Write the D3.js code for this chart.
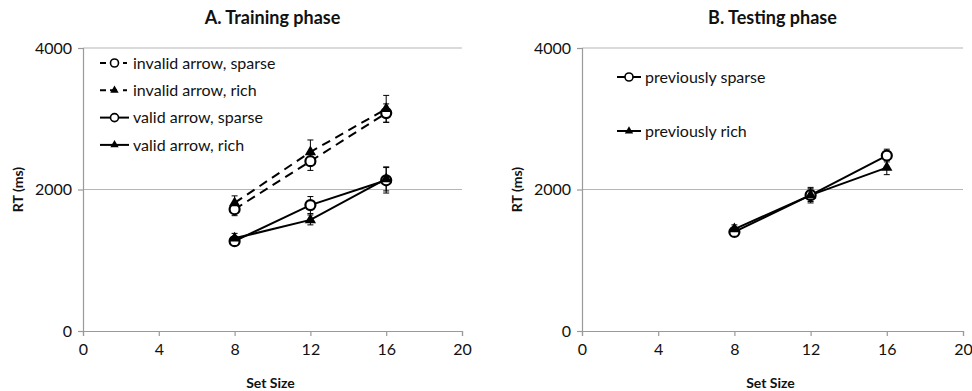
<!DOCTYPE html>
<html>
<head>
<meta charset="utf-8">
<script src="https://cdn.jsdelivr.net/npm/d3@7"></script>
<style>
  body { margin: 0; background: #fff; }
  text { font-family: Lato, 'Open Sans', sans-serif; fill: #111; }
</style>
</head>
<body>
<script>
// set sizes shown on the x axis
var setSizes = [8, 12, 16]
var xTicks = [0, 4, 8, 12, 16, 20]
var yTicks = [0, 2000, 4000]

// A. training phase (mean RT and error)
var invalidSparse = [1720, 2400, 3080]
var invalidSparseErr = [90, 130, 130]
var invalidRich = [1810, 2530, 3140]
var invalidRichErr = [100, 170, 190]
var validSparse = [1270, 1780, 2130]
var validSparseErr = [60, 120, 180]
var validRich = [1310, 1570, 2150]
var validRichErr = [70, 70, 170]

// B. testing phase
var prevSparse = [1400, 1920, 2480]
var prevSparseErr = [60, 90, 90]
var prevRich = [1440, 1920, 2310]
var prevRichErr = [60, 110, 100]

var svg = d3.select('body').append('svg')
  .attr('width', 972)
  .attr('height', 391)

var panels = [
  {
    title: 'A. Training phase',
    left: 83,
    right: 462,
    series: [
      { name: 'invalid arrow,  sparse', values: invalidSparse, err: invalidSparseErr, shape: 'circle', dashed: true },
      { name: 'invalid arrow,  rich', values: invalidRich, err: invalidRichErr, shape: 'triangle', dashed: true },
      { name: 'valid arrow,  sparse', values: validSparse, err: validSparseErr, shape: 'circle', dashed: false },
      { name: 'valid arrow,  rich', values: validRich, err: validRichErr, shape: 'triangle', dashed: false }
    ],
    legend: { x: 100, y: 63, gap: 27.3, len: 29 }
  },
  {
    title: 'B. Testing phase',
    left: 582,
    right: 963,
    series: [
      { name: 'previously sparse', values: prevSparse, err: prevSparseErr, shape: 'circle', dashed: false },
      { name: 'previously rich', values: prevRich, err: prevRichErr, shape: 'triangle', dashed: false }
    ],
    legend: { x: 617, y: 77, gap: 54, len: 24 }
  }
]

var plotTop = 48
var plotBottom = 331

panels.forEach(function (p) {
  var x = d3.scaleLinear().domain([0, 20]).range([p.left, p.right])
  var y = d3.scaleLinear().domain([0, 4000]).range([plotBottom, plotTop])
  var g = svg.append('g')

  // gridlines
  g.selectAll('line.grid')
    .data(yTicks.slice(1))
    .enter().append('line')
    .attr('x1', p.left).attr('x2', p.right)
    .attr('y1', function (d) { return y(d) })
    .attr('y2', function (d) { return y(d) })
    .attr('stroke', '#b5b5b5')
    .attr('stroke-width', 1.2)

  // axes
  var xAxis = g.append('g')
    .attr('transform', 'translate(0,' + plotBottom + ')')
    .call(d3.axisBottom(x).tickValues(xTicks).tickSize(5).tickPadding(8))
  var yAxis = g.append('g')
    .attr('transform', 'translate(' + p.left + ',0)')
    .call(d3.axisLeft(y).tickValues(yTicks).tickSize(5).tickPadding(6).tickFormat(d3.format('d')))
  ;[xAxis, yAxis].forEach(function (a) {
    a.select('.domain').attr('stroke', '#9a9a9a').attr('stroke-width', 1.2)
    a.selectAll('.tick line').attr('stroke', '#9a9a9a').attr('stroke-width', 1.2)
    a.selectAll('.tick text').style('font-size', '16px').attr('fill', '#111')
  })

  // titles and axis labels
  g.append('text')
    .attr('x', (p.left + p.right) / 2)
    .attr('y', 24)
    .attr('text-anchor', 'middle')
    .style('font-size', '18px')
    .style('font-weight', 'bold')
    .text(p.title)
  g.append('text')
    .attr('x', (p.left + p.right) / 2 - 2)
    .attr('y', 388)
    .attr('text-anchor', 'middle')
    .style('font-size', '14px')
    .style('font-weight', 'bold')
    .text('Set Size')
  g.append('text')
    .attr('transform', 'translate(' + (p.left - 60) + ',' + ((plotTop + plotBottom) / 2) + ') rotate(-90)')
    .attr('text-anchor', 'middle')
    .style('font-size', '14px')
    .style('font-weight', 'bold')
    .text('RT (ms)')

  var line = d3.line()
    .x(function (d, i) { return x(setSizes[i]) })
    .y(function (d) { return y(d) })

  var tri = d3.symbol().type(d3.symbolTriangle).size(55)

  function marker (sel, shape) {
    if (shape === 'circle') {
      sel.append('circle').attr('r', 5)
        .attr('fill', '#fff').attr('stroke', '#000').attr('stroke-width', 2.2)
    } else {
      sel.append('path').attr('d', tri).attr('fill', '#000')
    }
  }

  p.series.forEach(function (s) {
    // error bars
    var eb = g.append('g')
    s.values.forEach(function (v, i) {
      var cx = x(setSizes[i])
      eb.append('line')
        .attr('x1', cx).attr('x2', cx)
        .attr('y1', y(v - s.err[i])).attr('y2', y(v + s.err[i]))
        .attr('stroke', '#000').attr('stroke-width', 1)
      ;[v - s.err[i], v + s.err[i]].forEach(function (e) {
        eb.append('line')
          .attr('x1', cx - 3).attr('x2', cx + 3)
          .attr('y1', y(e)).attr('y2', y(e))
          .attr('stroke', '#000').attr('stroke-width', 1)
      })
    })

    g.append('path')
      .datum(s.values)
      .attr('d', line)
      .attr('fill', 'none')
      .attr('stroke', '#000')
      .attr('stroke-width', 2)
      .attr('stroke-dasharray', s.dashed ? '9,6' : null)
  })

  // markers on top
  p.series.forEach(function (s) {
    s.values.forEach(function (v, i) {
      var m = g.append('g').attr('transform', 'translate(' + x(setSizes[i]) + ',' + y(v) + ')')
      marker(m, s.shape)
    })
  })

  // legend
  var lg = g.append('g')
  p.series.forEach(function (s, i) {
    var ly = p.legend.y + i * p.legend.gap
    var item = lg.append('g').attr('transform', 'translate(' + p.legend.x + ',' + ly + ')')
    item.append('line')
      .attr('x1', 0).attr('x2', p.legend.len)
      .attr('stroke', '#000').attr('stroke-width', 2)
      .attr('stroke-dasharray', s.dashed ? '6,4,7' : null)
    var m = item.append('g').attr('transform', 'translate(' + (p.legend.len / 2) + ',0)')
    if (s.shape === 'circle') {
      m.append('circle').attr('r', 4)
        .attr('fill', '#fff').attr('stroke', '#000').attr('stroke-width', 1.6)
    } else {
      m.append('path').attr('d', d3.symbol().type(d3.symbolTriangle).size(30)).attr('fill', '#000')
    }
    item.append('text')
      .attr('x', p.legend.len + 4)
      .attr('dy', '0.35em')
      .style('font-size', '16px')
      .text(s.name)
  })
})
</script>
</body>
</html>
